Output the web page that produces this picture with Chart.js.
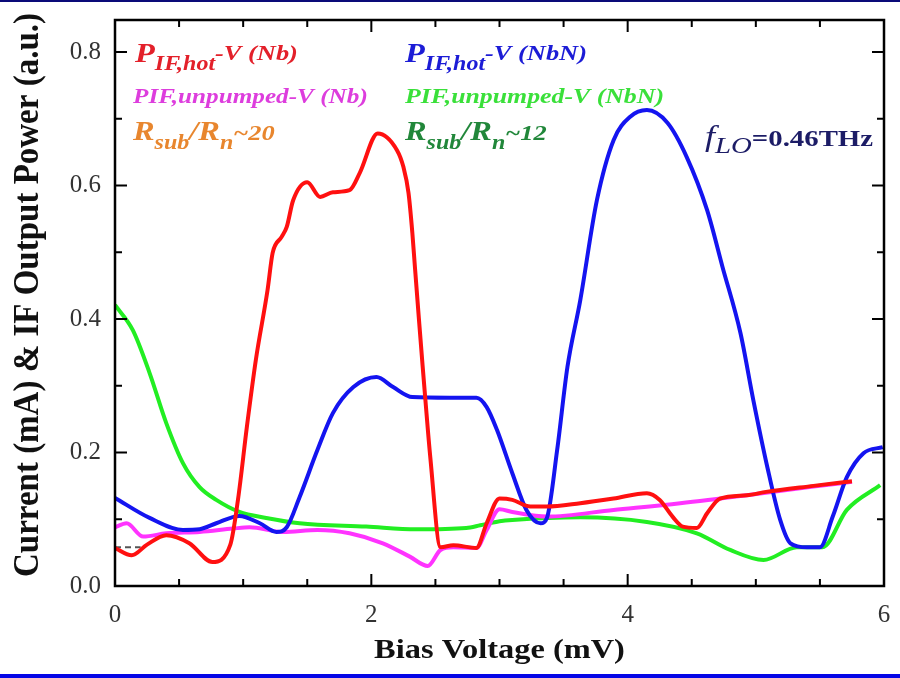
<!DOCTYPE html>
<html>
<head>
<meta charset="utf-8">
<script src="https://cdn.jsdelivr.net/npm/chart.js@4/dist/chart.umd.min.js"></script>
<style>
  html, body { margin: 0; padding: 0; background: #fff; }
  #wrap { width: 900px; height: 678px; }
</style>
</head>
<body>
<div id="wrap"><canvas id="chart" width="900" height="678"></canvas></div>
<script>
// bias voltage (mV) / power (a.u.)
var hotNbX = [0, 0.13, 0.25, 0.4, 0.58, 0.76, 0.9, 0.96, 1.03, 1.1, 1.19, 1.23, 1.3, 1.34, 1.39, 1.5, 1.6, 1.7, 1.83, 1.91, 2.05, 2.2, 2.25, 2.29, 2.32, 2.34, 2.37, 2.4, 2.42, 2.46, 2.54, 2.64, 2.82, 2.9, 3.0, 3.1, 3.24, 3.37, 3.63, 3.89, 4.15, 4.25, 4.35, 4.43, 4.54, 4.62, 4.72, 4.93, 5.08, 5.45, 5.75];
var hotNbY = [0.057, 0.046, 0.062, 0.076, 0.064, 0.036, 0.062, 0.13, 0.24, 0.34, 0.443, 0.499, 0.523, 0.538, 0.578, 0.605, 0.583, 0.59, 0.593, 0.619, 0.678, 0.653, 0.628, 0.589, 0.529, 0.478, 0.403, 0.33, 0.283, 0.193, 0.058, 0.061, 0.057, 0.094, 0.131, 0.129, 0.119, 0.119, 0.124, 0.131, 0.139, 0.129, 0.104, 0.089, 0.087, 0.109, 0.131, 0.136, 0.141, 0.15, 0.157];

var hotNbNX = [0, 0.27, 0.53, 0.66, 0.79, 0.97, 1.13, 1.26, 1.34, 1.44, 1.58, 1.7, 1.86, 2.04, 2.17, 2.32, 2.61, 2.82, 2.9, 2.98, 3.1, 3.21, 3.32, 3.37, 3.45, 3.53, 3.63, 3.76, 3.89, 4.02, 4.15, 4.31, 4.46, 4.62, 4.74, 4.88, 4.98, 5.09, 5.19, 5.27, 5.4, 5.5, 5.6, 5.71, 5.84, 5.99];
var hotNbNY = [0.132, 0.102, 0.084, 0.085, 0.094, 0.105, 0.094, 0.081, 0.088, 0.133, 0.204, 0.259, 0.298, 0.313, 0.298, 0.283, 0.282, 0.282, 0.268, 0.234, 0.169, 0.114, 0.094, 0.102, 0.204, 0.328, 0.428, 0.578, 0.668, 0.703, 0.713, 0.694, 0.643, 0.563, 0.478, 0.379, 0.279, 0.178, 0.099, 0.064, 0.058, 0.058, 0.104, 0.163, 0.199, 0.208];

var unpNbX = [0, 0.09, 0.22, 0.4, 0.66, 0.92, 1.05, 1.31, 1.58, 1.83, 2.09, 2.3, 2.44, 2.54, 2.64, 2.82, 2.9, 3.0, 3.1, 3.37, 3.89, 4.41, 4.93, 5.45, 5.75];
var unpNbY = [0.088, 0.094, 0.074, 0.079, 0.081, 0.086, 0.088, 0.081, 0.084, 0.079, 0.064, 0.044, 0.03, 0.054, 0.058, 0.057, 0.084, 0.115, 0.111, 0.104, 0.114, 0.124, 0.136, 0.149, 0.156];

var unpNbNX = [0, 0.14, 0.27, 0.4, 0.53, 0.66, 0.79, 0.97, 1.18, 1.44, 1.96, 2.35, 2.74, 2.85, 3.0, 3.1, 3.63, 4.15, 4.54, 4.8, 5.06, 5.32, 5.52, 5.71, 5.97];
var unpNbNY = [0.421, 0.383, 0.319, 0.244, 0.184, 0.148, 0.129, 0.111, 0.102, 0.094, 0.089, 0.085, 0.087, 0.091, 0.097, 0.099, 0.103, 0.096, 0.079, 0.054, 0.039, 0.058, 0.058, 0.114, 0.151];

var refX = [0, 0.2];
var refY = [0.058, 0.058];

var xTicks = [0, 2, 4, 6];
var yTicks = [0, 0.2, 0.4, 0.6, 0.8];

function pts(xs, ys) {
  return xs.map(function (x, i) { return { x: x, y: ys[i] }; });
}

function line(label, xs, ys, color) {
  return {
    label: label,
    data: pts(xs, ys),
    borderColor: color,
    backgroundColor: color,
    borderWidth: 4,
    pointRadius: 0,
    cubicInterpolationMode: 'monotone',
    fill: false
  };
}

var SERIF = '"Liberation Serif", "DejaVu Serif", serif';
var STRETCH = 1.2; // the source picture is widened a bit

function rich(ctx, x, y, color, parts) {
  ctx.save();
  ctx.translate(x, y);
  ctx.scale(STRETCH, 1);
  ctx.fillStyle = color;
  ctx.textBaseline = 'alphabetic';
  ctx.textAlign = 'left';
  var cx = 0;
  parts.forEach(function (p) {
    ctx.font = p.f;
    ctx.fillText(p.t, cx, p.dy || 0);
    cx += ctx.measureText(p.t).width + (p.gap || 0);
  });
  ctx.restore();
}

function noPad(axis) {
  axis.paddingTop = 0;
  axis.paddingBottom = 0;
  axis.paddingLeft = 0;
  axis.paddingRight = 0;
}

var frame = {
  id: 'frame',
  beforeDraw: function (chart) {
    var ctx = chart.ctx;
    ctx.save();
    ctx.fillStyle = '#fff';
    ctx.fillRect(0, 0, chart.width, chart.height);
    ctx.fillStyle = '#0a0a78';
    ctx.fillRect(0, 0, chart.width, 2);
    ctx.fillStyle = '#0505e6';
    ctx.fillRect(0, chart.height - 4, chart.width, 4);
    ctx.restore();
  },
  afterDraw: function (chart) {
    var ctx = chart.ctx, a = chart.chartArea;
    var xs = chart.scales.x, ys = chart.scales.y;
    ctx.save();
    ctx.strokeStyle = '#000';
    ctx.lineWidth = 2.5;
    ctx.strokeRect(a.left, a.top, a.right - a.left, a.bottom - a.top);
    ctx.lineWidth = 2;
    ctx.beginPath();
    var v, p, len;
    for (v = 0.5; v < 6; v += 0.5) {
      p = xs.getPixelForValue(v);
      len = (v % 2 === 0) ? 12 : 7;
      ctx.moveTo(p, a.bottom); ctx.lineTo(p, a.bottom - len);
      ctx.moveTo(p, a.top); ctx.lineTo(p, a.top + len);
    }
    for (v = 1; v <= 8; v += 1) {
      p = ys.getPixelForValue(v / 10);
      len = (v % 2 === 0) ? 12 : 7;
      ctx.moveTo(a.left, p); ctx.lineTo(a.left + len, p);
      ctx.moveTo(a.right, p); ctx.lineTo(a.right - len, p);
    }
    ctx.stroke();

    // axis titles
    ctx.save();
    ctx.fillStyle = '#111';
    ctx.textAlign = 'center';
    ctx.textBaseline = 'alphabetic';
    ctx.font = 'bold 27px ' + SERIF;
    ctx.translate((a.left + a.right) / 2, 658);
    ctx.scale(STRETCH, 1);
    ctx.fillText('Bias Voltage (mV)', 0, 0);
    ctx.restore();

    ctx.save();
    ctx.fillStyle = '#111';
    ctx.textAlign = 'center';
    ctx.textBaseline = 'middle';
    ctx.font = 'bold 33px ' + SERIF;
    ctx.translate(29, 295);
    ctx.scale(1.1, 1);
    ctx.rotate(-Math.PI / 2);
    ctx.fillText('Current (mA) & IF Output Power (a.u.)', 0, 0);
    ctx.restore();

    var L = a.left, T = a.top;
    var big = 'italic bold 27px ' + SERIF, sub = 'italic bold 20px ' + SERIF, mid = 'italic bold 22px ' + SERIF;
    rich(ctx, L + 20, T + 42, '#e3202a', [
      { t: 'P', f: big }, { t: 'IF,hot', f: sub, dy: 8 }, { t: '-V (Nb)', f: mid, dy: -2 }
    ]);
    rich(ctx, L + 18, T + 83, '#dd3ddd', [{ t: 'PIF,unpumped-V (Nb)', f: 'italic bold 21px ' + SERIF }]);
    rich(ctx, L + 18, T + 120, '#e8862e', [
      { t: 'R', f: big }, { t: 'sub', f: sub, dy: 9 }, { t: '/R', f: big }, { t: 'n', f: sub, dy: 9 }, { t: '~20', f: mid }
    ]);
    rich(ctx, L + 290, T + 42, '#1c1cd6', [
      { t: 'P', f: big }, { t: 'IF,hot', f: sub, dy: 8 }, { t: '-V (NbN)', f: mid, dy: -2 }
    ]);
    rich(ctx, L + 290, T + 83, '#3ae03a', [{ t: 'PIF,unpumped-V (NbN)', f: 'italic bold 21.5px ' + SERIF }]);
    rich(ctx, L + 290, T + 120, '#21873a', [
      { t: 'R', f: big }, { t: 'sub', f: sub, dy: 9 }, { t: '/R', f: big }, { t: 'n', f: sub, dy: 9 }, { t: '~12', f: mid }
    ]);
    rich(ctx, L + 590, T + 126, '#1c1c66', [
      { t: 'f', f: 'italic 30px ' + SERIF }, { t: 'LO', f: 'italic 24px ' + SERIF, dy: 7 }, { t: '=0.46THz', f: 'bold 24px ' + SERIF }
    ]);
    ctx.restore();
  }
};

new Chart(document.getElementById('chart'), {
  type: 'line',
  data: {
    datasets: [
      line('PIF,hot-V (Nb)', hotNbX, hotNbY, '#ff1010'),
      line('PIF,hot-V (NbN)', hotNbNX, hotNbNY, '#1414f0'),
      line('PIF,unpumped-V (Nb)', unpNbX, unpNbY, '#ff33ff'),
      line('PIF,unpumped-V (NbN)', unpNbNX, unpNbNY, '#22ee22'),
      Object.assign(line('ref', refX, refY, '#555555'), { borderWidth: 2, borderDash: [6, 4] })
    ]
  },
  options: {
    responsive: false,
    animation: false,
    events: [],
    layout: { padding: { top: 20, right: 16, left: 0, bottom: 0 } },
    plugins: { legend: { display: false }, tooltip: { enabled: false } },
    scales: {
      x: {
        type: 'linear',
        min: 0,
        max: 6,
        grid: { display: false, drawTicks: false },
        border: { display: false },
        afterBuildTicks: function (axis) { axis.ticks = xTicks.map(function (v) { return { value: v }; }); },
        afterFit: function (axis) { axis.height = 92; noPad(axis); },
        ticks: {
          padding: 14,
          color: '#333',
          font: { family: SERIF, size: 25 },
          callback: function (v) { return String(v); }
        },
        title: { display: false }
      },
      y: {
        min: 0,
        max: 0.848,
        grid: { display: false, drawTicks: false },
        border: { display: false },
        afterBuildTicks: function (axis) { axis.ticks = yTicks.map(function (v) { return { value: v }; }); },
        afterFit: function (axis) { axis.width = 115; noPad(axis); },
        ticks: {
          padding: 14,
          color: '#333',
          font: { family: SERIF, size: 25 },
          callback: function (v) { return Number(v).toFixed(1); }
        },
        title: { display: false }
      }
    }
  },
  plugins: [frame]
});
</script>
</body>
</html>
